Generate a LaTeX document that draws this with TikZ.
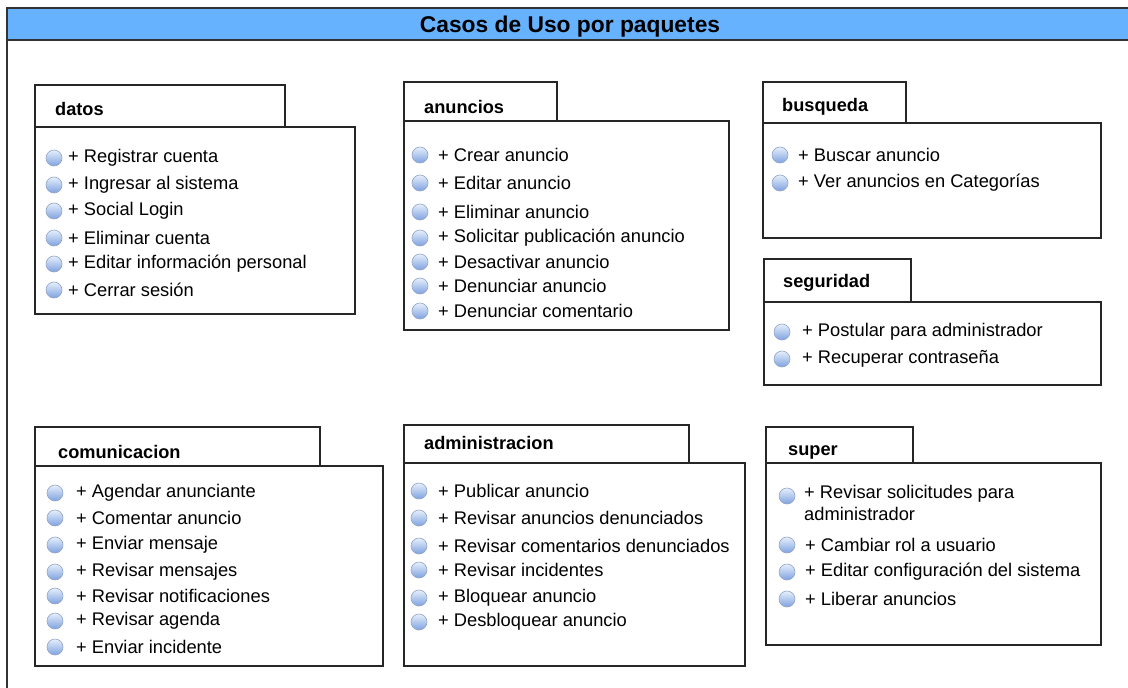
\documentclass[tikz,border=0pt]{standalone}
\usepackage{fontspec}
\setmainfont{Liberation Sans}
\definecolor{barblue}{HTML}{66B2FF}
\definecolor{bulltop}{HTML}{E6EFFB}
\definecolor{bullbot}{HTML}{7EA2E0}
\definecolor{bullrim}{HTML}{92A5C8}
\tikzset{
  pkgline/.style={draw=black!85, line width=1.2pt},
  pkgname/.style={anchor=west, inner sep=0pt, font=\fontsize{18.2}{20}\selectfont\bfseries},
  usecase/.style={anchor=west, inner sep=0pt, yshift=-1.5pt, font=\fontsize{18.3}{22}\selectfont},
  bullet/.style={yshift=-2pt, top color=bulltop, bottom color=bullbot, draw=bullrim, line width=0.6pt}
}
\begin{document}
\begin{tikzpicture}[x=1pt,y=-1pt]
		\useasboundingbox (0,0) rectangle (1128,688);
		\fill[white] (0,0) rectangle (1128,688);
		\begin{scope}
			\clip (0,0) rectangle (1128,688);
			\draw[line width=1.5pt, draw=black!80] (7,8) rectangle (1140,700);
			\draw[fill=barblue, line width=1.5pt, draw=black!80] (7,8) rectangle (1140,40);
		\end{scope}
		\node[font=\fontsize{22.8}{24}\selectfont\bfseries] (titulo) at (570,27) {Casos de Uso por paquetes};
		
		% datos
		\draw[pkgline] (35,85) rectangle (285,127);
		\draw[pkgline] (35,127) rectangle (355,314);
		\node[pkgname] (datos) at (55,109) {datos};
		\foreach \y/\t [count=\i] in {156/Registrar cuenta,183/Ingresar al sistema,209/Social Login,236/Eliminar cuenta,262/Editar información personal,288/Cerrar sesión}{
			\shade[bullet] (54,\y) circle (8);
			\node[usecase] (datos-\i) at (68,\y) {+ \t};
		}
		
		% anuncios
		\draw[pkgline] (404,82) rectangle (557,121);
		\draw[pkgline] (404,121) rectangle (729,330);
		\node[pkgname] (anuncios) at (424,107) {anuncios};
		\foreach \y/\t [count=\i] in {153/Crear anuncio,181/Editar anuncio,210/Eliminar anuncio,236/Solicitar publicación anuncio,260/Desactivar anuncio,284/Denunciar anuncio,309/Denunciar comentario}{
			\shade[bullet] (420,\y) circle (8);
			\node[usecase] (anuncios-\i) at (438,\y) {+ \t};
		}
		
		% busqueda
		\draw[pkgline] (763,82) rectangle (906,123);
		\draw[pkgline] (763,123) rectangle (1101,238);
		\node[pkgname] (busqueda) at (782,107) {busqueda};
		\foreach \y/\t [count=\i] in {153/Buscar anuncio,181/Ver anuncios en Categorías}{
			\shade[bullet] (780,\y) circle (8);
			\node[usecase] (busqueda-\i) at (798,\y) {+ \t};
		}
		
		% seguridad
		\draw[pkgline] (764,259) rectangle (911,302);
		\draw[pkgline] (764,302) rectangle (1101,385);
		\node[pkgname] (seguridad) at (783,283) {seguridad};
		\foreach \y/\t [count=\i] in {330/Postular para administrador,357/Recuperar contraseña}{
			\shade[bullet] (782,\y) circle (8);
			\node[usecase] (seguridad-\i) at (802,\y) {+ \t};
		}
		
		% comunicacion
		\draw[pkgline] (35,427) rectangle (320,466);
		\draw[pkgline] (35,466) rectangle (383,666);
		\node[pkgname] (comunicacion) at (58,452) {comunicacion};
		\foreach \y/\t [count=\i] in {491/Agendar anunciante,516/Comentar anuncio,543/Enviar mensaje,570/Revisar mensajes,594/Revisar notificaciones,619/Revisar agenda,645/Enviar incidente}{
			\shade[bullet] (55,\y) circle (8);
			\node[usecase] (comunicacion-\i) at (76,\y) {+ \t};
		}
		
		% administracion
		\draw[pkgline] (404,425) rectangle (689,463);
		\draw[pkgline] (404,463) rectangle (745,666);
		\node[pkgname] (administracion) at (424,443) {administracion};
		\foreach \y/\t [count=\i] in {489/Publicar anuncio,516/Revisar anuncios denunciados,544/Revisar comentarios denunciados,568/Revisar incidentes,596/Bloquear anuncio,620/Desbloquear anuncio}{
			\shade[bullet] (419,\y) circle (8);
			\node[usecase] (administracion-\i) at (438,\y) {+ \t};
		}
		
		% super
		\draw[pkgline] (766,427) rectangle (913,463);
		\draw[pkgline] (766,463) rectangle (1101,645);
		\node[pkgname] (super) at (788,452) {super};
		\shade[bullet] (787,494) circle (8);
		\node[usecase, anchor=north west, align=left] (super-1) at (804,484) {+ Revisar solicitudes para\\administrador};
		\foreach \y/\t [count=\i from 2] in {543/Cambiar rol a usuario,570/Editar configuración del sistema,597/Liberar anuncios}{
			\shade[bullet] (787,\y) circle (8);
			\node[usecase] (super-\i) at (805,\y) {+ \t};
		}
\end{tikzpicture}
\end{document}
